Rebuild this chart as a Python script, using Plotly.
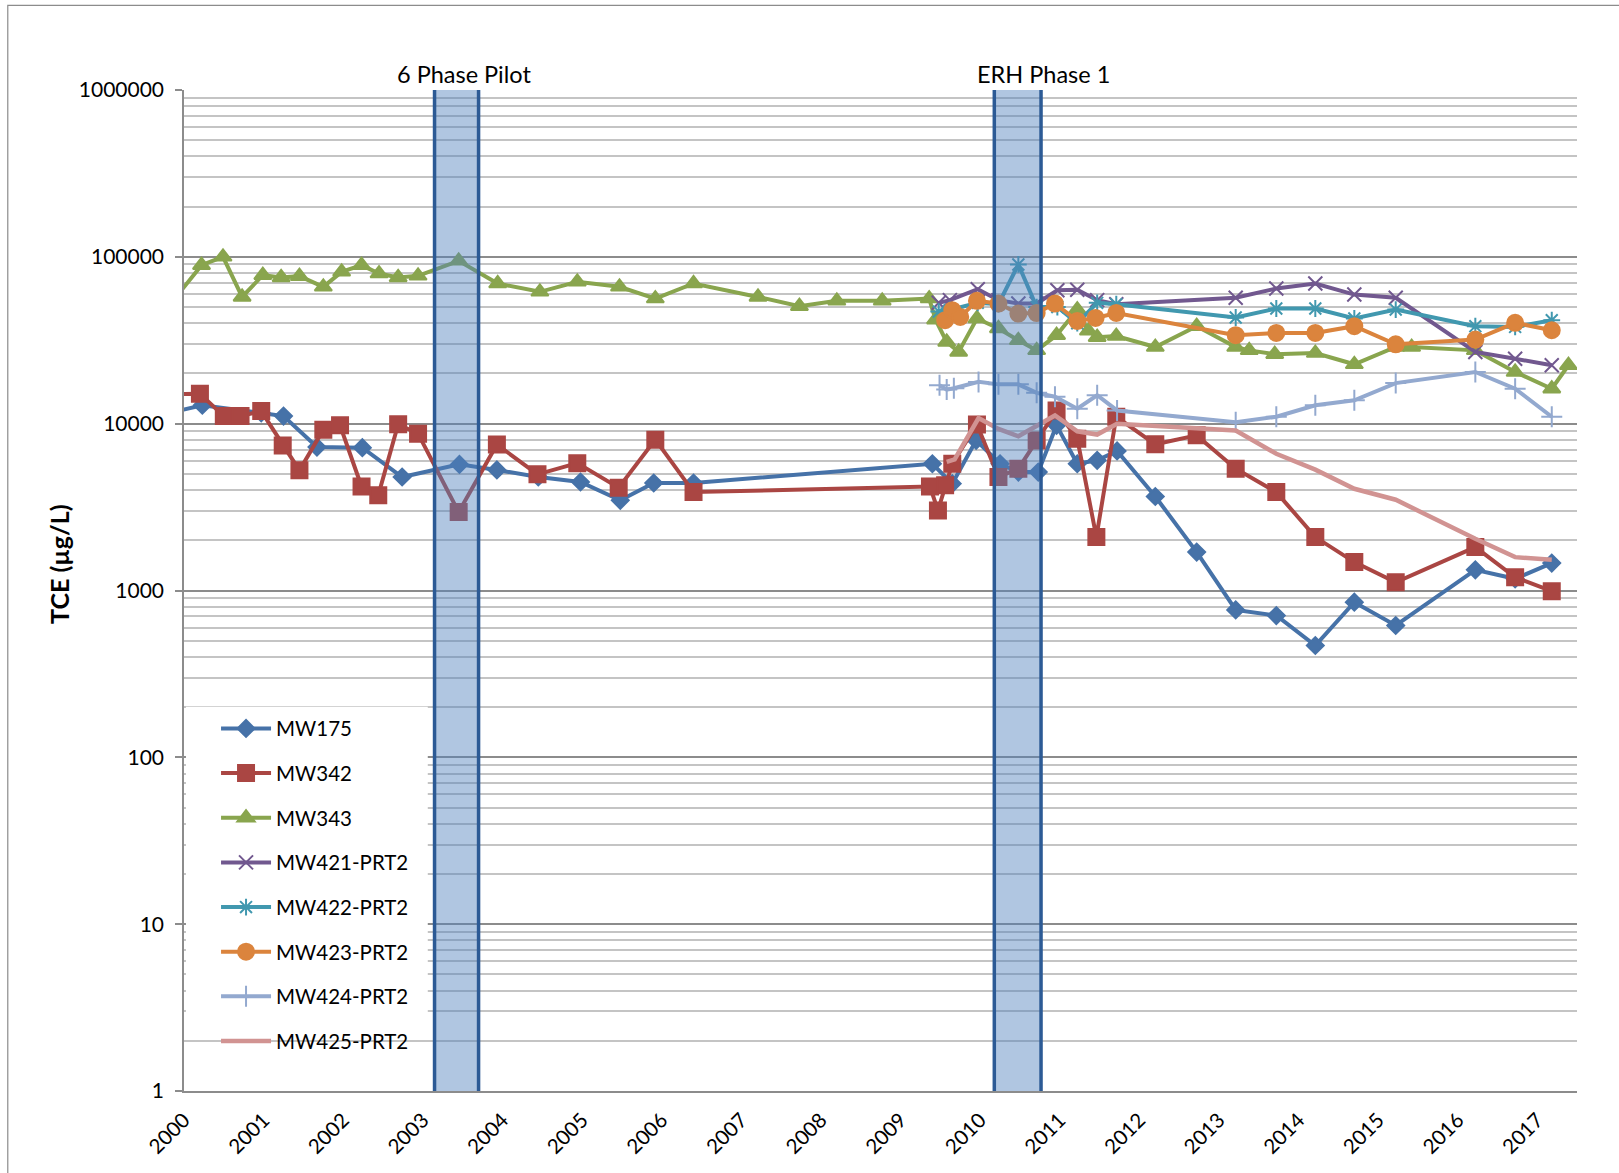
import plotly.graph_objects as go

# ---- monitoring data: TCE concentration (ug/L) by sampling date (decimal year) ----
mw175_x = [1999.75, 2000.23, 2000.97, 2001.25, 2001.67, 2002.24, 2002.74, 2003.46, 2003.93,
           2004.45, 2004.98, 2005.48, 2005.90, 2006.40, 2009.40, 2009.65, 2009.95, 2010.25,
           2010.48, 2010.73, 2010.96, 2011.22, 2011.47, 2011.72, 2012.20, 2012.72, 2013.21,
           2013.72, 2014.21, 2014.70, 2015.22, 2016.22, 2016.72, 2017.18]
mw175_y = [11400, 12900, 11600, 11100, 7240, 7180, 4790, 5700, 5280,
           4790, 4470, 3470, 4410, 4410, 5750, 4370, 7940, 5750,
           5130, 5130, 9770, 5750, 6030, 6860, 3660, 1700, 765,
           708, 468, 851, 617, 1330, 1175, 1460]

mw342_x = [1999.75, 2000.20, 2000.50, 2000.71, 2000.97, 2001.24, 2001.45, 2001.75, 2001.96,
           2002.23, 2002.44, 2002.69, 2002.94, 2003.45, 2003.93, 2004.44, 2004.94, 2005.46,
           2005.92, 2006.40, 2009.37, 2009.47, 2009.56, 2009.65, 2009.96, 2010.23, 2010.48,
           2010.71, 2010.96, 2011.22, 2011.46, 2011.71, 2012.20, 2012.72, 2013.21, 2013.72,
           2014.21, 2014.70, 2015.22, 2016.22, 2016.72, 2017.18]
mw342_y = [15000, 15100, 11100, 11100, 11900, 7410, 5250, 9200, 9770,
           4200, 3720, 9910, 8710, 2950, 7500, 4970, 5800, 4130,
           8020, 3890, 4200, 3020, 4270, 5750, 9900, 4790, 5370,
           7940, 12000, 8130, 2090, 11000, 7520, 8510, 5370, 3890,
           2090, 1480, 1120, 1820, 1200, 990]

mw343_x = [1999.80, 2000.22, 2000.49, 2000.73, 2000.99, 2001.22, 2001.45, 2001.75, 2001.98,
           2002.23, 2002.45, 2002.69, 2002.94, 2003.45, 2003.94, 2004.47, 2004.94, 2005.47,
           2005.92, 2006.40, 2007.21, 2007.73, 2008.20, 2008.77, 2009.36, 2009.44, 2009.58,
           2009.73, 2009.96, 2010.23, 2010.48, 2010.71, 2010.96, 2011.22, 2011.36, 2011.47,
           2011.71, 2012.20, 2012.72, 2013.21, 2013.38, 2013.70, 2014.21, 2014.70, 2015.22,
           2015.42, 2016.22, 2016.72, 2017.18, 2017.39]
mw343_y = [50000, 89100, 100000, 57500, 77600, 75200, 76600, 66100, 81300,
           89100, 79400, 75200, 76900, 94600, 69200, 61700, 70800, 66100,
           56200, 69200, 57500, 50600, 54500, 54500, 56200, 42000, 30900,
           26900, 42700, 37200, 31600, 27500, 33900, 48300, 36000, 33000,
           33500, 28800, 38400, 28800, 27500, 26100, 26500, 22700, 28800,
           28800, 27500, 20400, 16200, 22400]

mw421_x = [2009.48, 2009.62, 2009.97, 2010.23, 2010.48, 2010.71, 2010.97, 2011.22, 2011.47,
           2011.71, 2013.21, 2013.72, 2014.21, 2014.70, 2015.22, 2016.22, 2016.72, 2017.18]
mw421_y = [53000, 55000, 64000, 55000, 52500, 52500, 63000, 63500, 55000,
           52000, 56800, 64600, 69200, 59400, 56800, 26900, 24500, 22400]

mw422_x = [2009.48, 2009.62, 2009.97, 2010.23, 2010.48, 2010.71, 2010.97, 2011.22, 2011.47,
           2011.71, 2013.21, 2013.72, 2014.21, 2014.70, 2015.22, 2016.22, 2016.72, 2017.18]
mw422_y = [47000, 48000, 53000, 52000, 90000, 50000, 50000, 40000, 53000,
           52000, 43300, 49000, 49000, 42700, 48300, 38400, 38000, 41700]

mw423_x = [2009.56, 2009.65, 2009.75, 2009.96, 2010.23, 2010.48, 2010.71, 2010.94, 2011.22,
           2011.45, 2011.71, 2013.21, 2013.72, 2014.21, 2014.70, 2015.22, 2016.22, 2016.72,
           2017.18]
mw423_y = [41700, 47900, 43600, 54500, 52500, 45700, 46000, 52500, 41300,
           43000, 46100, 33900, 35000, 35000, 38400, 29900, 31900, 40200,
           36300]

mw424_x = [2009.49, 2009.58, 2009.67, 2009.98, 2010.23, 2010.48, 2010.71, 2010.94, 2011.22,
           2011.47, 2011.72, 2013.21, 2013.72, 2014.21, 2014.70, 2015.22, 2016.22, 2016.72,
           2017.18]
mw424_y = [17000, 16000, 16300, 17800, 17200, 17200, 15300, 14500, 12300,
           14800, 12000, 10200, 11000, 12900, 13800, 17500, 20400, 16200,
           11000]

mw425_x = [2009.58, 2009.68, 2009.98, 2010.23, 2010.48, 2010.72, 2010.94, 2011.22, 2011.47,
           2011.72, 2012.72, 2013.21, 2013.72, 2014.21, 2014.70, 2015.22, 2016.22, 2016.72,
           2017.18]
mw425_y = [5900, 6100, 10800, 9300, 8400, 9800, 11200, 9000, 8600,
           10000, 9300, 9100, 6600, 5300, 4070, 3500, 2040, 1585,
           1530]

# remediation periods (decimal year start/end)
pilot_period = [2003.147, 2003.70]
erh_period = [2010.178, 2010.765]
period_names = ["6 Phase Pilot", "ERH Phase 1"]
period_label_x = [2003.52, 2010.79]

year_ticks = list(range(2000, 2018))
conc_ticks = [1, 10, 100, 1000, 10000, 100000, 1000000]
conc_labels = ["1", "10", "100", "1000", "10000", "100000", "1000000"]

FONT = "Lato, 'Open Sans', sans-serif"

series = [
    ("MW175", mw175_x, mw175_y, "#4672A8", "diamond", 13),
    ("MW342", mw342_x, mw342_y, "#AA4643", "square", 16),
    ("MW343", mw343_x, mw343_y, "#89A54E", "triangle-up", 15),
    ("MW421-PRT2", mw421_x, mw421_y, "#71588F", "x-thin-open", 14),
    ("MW422-PRT2", mw422_x, mw422_y, "#4198AF", "asterisk-open", 14),
    ("MW423-PRT2", mw423_x, mw423_y, "#DB843D", "circle", 16),
    ("MW424-PRT2", mw424_x, mw424_y, "#93A9CF", "cross-thin-open", 15),
    ("MW425-PRT2", mw425_x, mw425_y, "#D19392", None, 0),
]

fig = go.Figure()
for name, xs, ys, color, symbol, size in series:
    if symbol:
        fig.add_trace(go.Scatter(
            x=xs, y=ys, name=name, legendgroup=name, mode="lines+markers",
            line=dict(color=color, width=4),
            marker=dict(symbol=symbol, size=size, color=color,
                        line=dict(color=color, width=2)),
        ))
    else:
        fig.add_trace(go.Scatter(
            x=xs, y=ys, name=name, legendgroup=name, mode="lines",
            line=dict(color=color, width=4.5),
        ))

# white panel behind the legend entries
fig.add_shape(type="rect", xref="paper", yref="paper", x0=0.0014, x1=0.175,
              y0=0.0535, y1=0.3838, fillcolor="white", line=dict(width=0), layer="above")

# shaded remediation periods, drawn translucent over the data
for (x0, x1), label, lx in zip([pilot_period, erh_period], period_names, period_label_x):
    fig.add_shape(type="rect", xref="x", yref="paper", x0=x0, x1=x1, y0=0, y1=1,
                  fillcolor="rgba(79,129,189,0.45)", line=dict(width=0), layer="above")
    for xv in (x0, x1):
        fig.add_shape(type="line", xref="x", yref="paper", x0=xv, x1=xv, y0=0, y1=1,
                      line=dict(color="#2C5A95", width=3.5), layer="above")
    fig.add_annotation(x=lx, xref="x", y=1.0155, yref="paper", text=label,
                       showarrow=False, font=dict(family=FONT, size=23.5, color="black"),
                       xanchor="center", yanchor="middle")

# y-axis title
fig.add_annotation(x=-0.0897, xref="paper", y=0.5256, yref="paper",
                   text="<b>TCE (µg/L)</b>", textangle=-90, showarrow=False,
                   xanchor="center", yanchor="middle",
                   font=dict(family=FONT, size=25, color="black"))

# chart-area border
fig.add_shape(type="rect", xref="paper", yref="paper", x0=-0.1265, x1=1.2,
              y0=-0.2, y1=1.0845, line=dict(color="#8C8C8C", width=1.2),
              fillcolor="rgba(0,0,0,0)", layer="below")

minor_vals = [m * 10 ** d for d in range(6) for m in range(2, 10)]

fig.update_layout(
    width=1619, height=1173, autosize=False,
    margin=dict(l=184, r=42, t=90, b=82),
    paper_bgcolor="white", plot_bgcolor="white",
    font=dict(family=FONT, size=20, color="black"),
    showlegend=True,
    legend=dict(x=0.023, y=0.382, xanchor="left", yanchor="top",
                bgcolor="rgba(0,0,0,0)", font=dict(family=FONT, size=20.5, color="black"),
                itemwidth=50, traceorder="grouped", tracegroupgap=15.0,
                borderwidth=0),
    xaxis=dict(range=[2000, 2017.497], tickmode="array", tickvals=year_ticks,
               ticktext=[str(y) for y in year_ticks], tickangle=-45,
               showgrid=False, zeroline=False, showline=True,
               linecolor="#8C8C8C", linewidth=2, ticks="", ticklabelstandoff=7,
               tickfont=dict(family=FONT, size=20.5, color="black")),
    yaxis=dict(type="log", range=[0, 6], tickmode="array", tickvals=conc_ticks,
               ticktext=conc_labels, showgrid=True, gridcolor="#8C8C8C", gridwidth=1.8,
               ticks="outside", ticklen=7, tickcolor="#8C8C8C", tickwidth=1.5,
               showline=True, linecolor="#8C8C8C", linewidth=1.5, zeroline=False,
               ticklabelstandoff=7,
               tickfont=dict(family=FONT, size=21, color="black"),
               minor=dict(tickmode="array", tickvals=minor_vals, showgrid=True,
                          gridcolor="#C4C4C4", gridwidth=1.5, ticks="")),
)

fig.write_html("out.html")
